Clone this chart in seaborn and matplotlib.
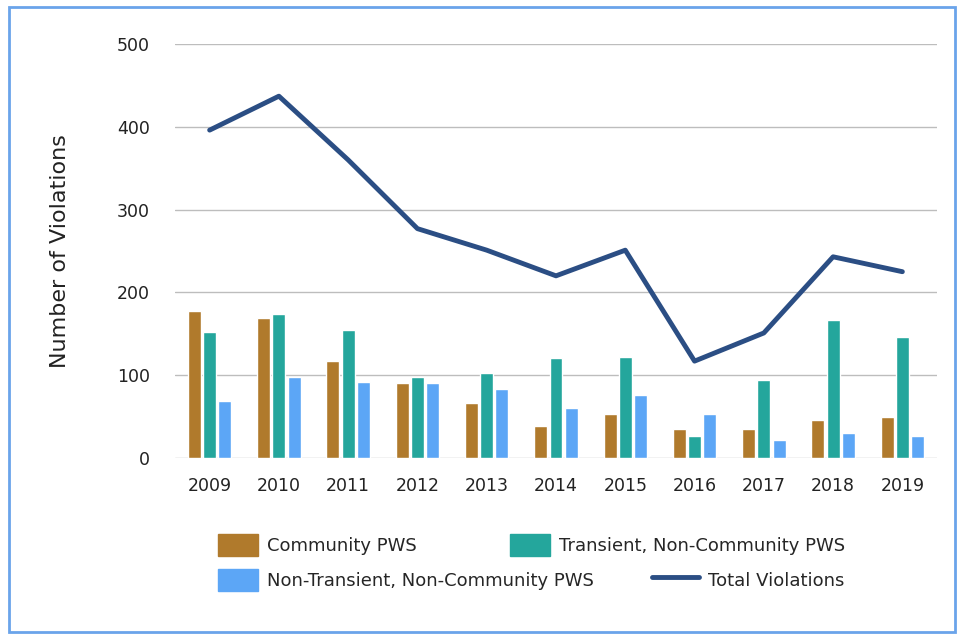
import numpy as np
import pandas as pd
import matplotlib.pyplot as plt
import matplotlib.patches as mpatches
import seaborn as sns

years = ["2009", "2010", "2011", "2012", "2013", "2014", "2015", "2016", "2017", "2018", "2019"]
community = [178, 169, 117, 91, 66, 39, 53, 35, 35, 46, 50]
transient = [152, 174, 155, 98, 103, 121, 122, 27, 94, 167, 146]
non_transient = [69, 98, 92, 91, 83, 60, 76, 53, 22, 30, 27]
total = [396, 437, 360, 277, 251, 220, 251, 117, 151, 243, 225]

series = ["Community PWS", "Transient, Non-Community PWS", "Non-Transient, Non-Community PWS"]
colors = ["#B07A2C", "#24A69C", "#5CA6F6"]
line_color = "#2B4E84"

df = pd.DataFrame({
    "year": years * 3,
    "value": community + transient + non_transient,
    "type": [series[0]] * 11 + [series[1]] * 11 + [series[2]] * 11,
})

sns.set_style("white")
plt.rcParams["font.family"] = ["DejaVu Sans"]

fig = plt.figure(figsize=(9.61, 6.38), dpi=100)
ax = fig.add_axes([175 / 961, 1 - 458 / 638, 762 / 961, 414 / 638])

sns.barplot(data=df, x="year", y="value", hue="type", order=years, hue_order=series,
            palette=colors, width=0.66, gap=0.15, saturation=1, ax=ax, legend=False)
sns.lineplot(x=np.arange(len(years)), y=total, color=line_color, linewidth=3.5, ax=ax)

ax.set_ylim(0, 500)
ax.set_xlim(-0.5, len(years) - 0.5)
ax.set_yticks([0, 100, 200, 300, 400, 500])
ax.yaxis.grid(True, color="#BDBDBD", linewidth=1)
ax.set_axisbelow(True)
for s in ax.spines.values():
    s.set_visible(False)
ax.tick_params(axis="both", length=0, labelsize=12.5, colors="#222222")
ax.tick_params(axis="y", pad=18)
ax.tick_params(axis="x", pad=14)
ax.set_xlabel("")
ax.set_ylabel("Number of Violations", fontsize=16, color="#222222", labelpad=34)

# legend entries placed one by one, like the original flow layout
entries = [
    (mpatches.Patch(color=colors[0]), series[0], 218, 545, 2.2),
    (mpatches.Patch(color=colors[1]), series[1], 510, 545, 2.2),
    (mpatches.Patch(color=colors[2]), series[2], 218, 580, 2.2),
    (plt.Line2D([], [], color=line_color, linewidth=3.5), "Total Violations", 652, 580, 2.6),
]
for h, lab, x, y, hl in entries:
    fig.legend([h], [lab], loc="center left", bbox_to_anchor=(x / 961, 1 - y / 638),
               frameon=False, fontsize=13, handlelength=hl, handleheight=1.5,
               handletextpad=0.5, borderpad=0, borderaxespad=0)

fig.patches.append(mpatches.Rectangle((9 / 961, 6 / 638), 946 / 961, 625 / 638,
                                      transform=fig.transFigure, fill=False,
                                      edgecolor="#6AA4EA", linewidth=2))

fig.savefig("out.png", dpi=100)
